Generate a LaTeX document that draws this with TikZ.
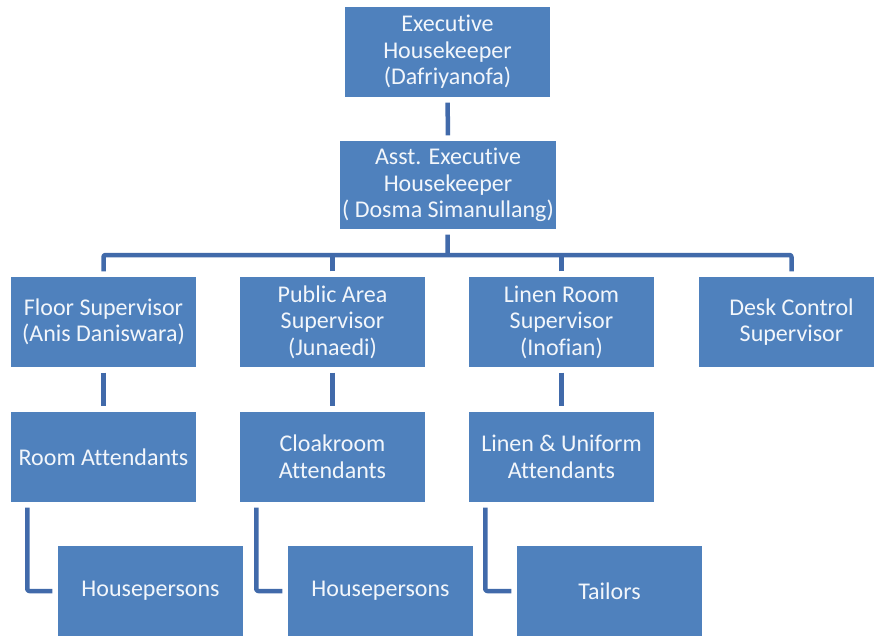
\documentclass[tikz,border=0pt]{standalone}
\usepackage{fontspec}
\setmainfont{Carlito}[Ligatures=NoCommon]
\usetikzlibrary{calc}
\definecolor{boxblue}{RGB}{79,129,189}
\definecolor{lineblue}{RGB}{65,106,170}
\definecolor{boxtext}{RGB}{242,246,251}

\begin{document}
\begin{tikzpicture}[x=1pt, y=-1pt, line join=round,
    orgbox/.style={fill=boxblue, text=boxtext, align=center, inner sep=0pt,
                   minimum width=185pt, minimum height=90pt,
                   font=\fontsize{24}{26.5}\selectfont},
    link/.style={draw=lineblue, line width=4.5pt, rounded corners=2pt,
                 shorten <=5.5pt, shorten >=5.5pt}]
    % picture frame
    \useasboundingbox (0,0) rectangle (874,636);
    \clip (0,0) rectangle (874,636);

    % top of the chart
    \node[orgbox, minimum width=205pt] (exec) at (447.5,52) {Executive\\Housekeeper\\(Dafriyanofa)};
    \node[orgbox, minimum width=216pt, minimum height=88pt] (asst) at (448,185) {Asst. Executive\\Housekeeper\\( Dosma Simanullang)};
    \coordinate (bus) at (447.5,255);

    % supervisors
    \node[orgbox] (floorsup)  at (103.5,322) {Floor Supervisor\\(Anis Daniswara)};
    \node[orgbox] (publicsup) at (332.5,322) {Public Area\\Supervisor\\(Junaedi)};
    \node[orgbox] (linensup)  at (561.5,322) {Linen Room\\Supervisor\\(Inofian)};
    \node[orgbox] (desksup)   at (791.5,322) {Desk Control\\Supervisor};

    % attendants
    \node[orgbox] (roomatt)  at (103.5,457) {Room Attendants};
    \node[orgbox] (cloakatt) at (332.5,457) {Cloakroom\\Attendants};
    \node[orgbox] (linenatt) at (561.5,457) {Linen \& Uniform\\Attendants};

    % third level
    \node[orgbox] (house1)  at (150.5,591) {Housepersons};
    \node[orgbox] (house2)  at (380.5,591) {Housepersons};
    \node[orgbox] (tailors) at (609.5,591) {Tailors};

    % connectors
    \draw[link] (exec) -- (asst);
    \draw[link, shorten >=0pt] (asst) -- (bus);
    \draw[link] (floorsup) |- (bus) -| (desksup);
    \draw[link, shorten >=0pt] (publicsup) -- (publicsup |- bus);
    \draw[link, shorten >=0pt] (linensup) -- (linensup |- bus);

    \draw[link] (floorsup) -- (roomatt);
    \draw[link] (publicsup) -- (cloakatt);
    \draw[link] (linensup) -- (linenatt);

    \draw[link] ([xshift=16.5pt]roomatt.south west) |- (house1);
    \draw[link] ([xshift=16.5pt]cloakatt.south west) |- (house2);
    \draw[link] ([xshift=16.5pt]linenatt.south west) |- (tailors);
\end{tikzpicture}
\end{document}
